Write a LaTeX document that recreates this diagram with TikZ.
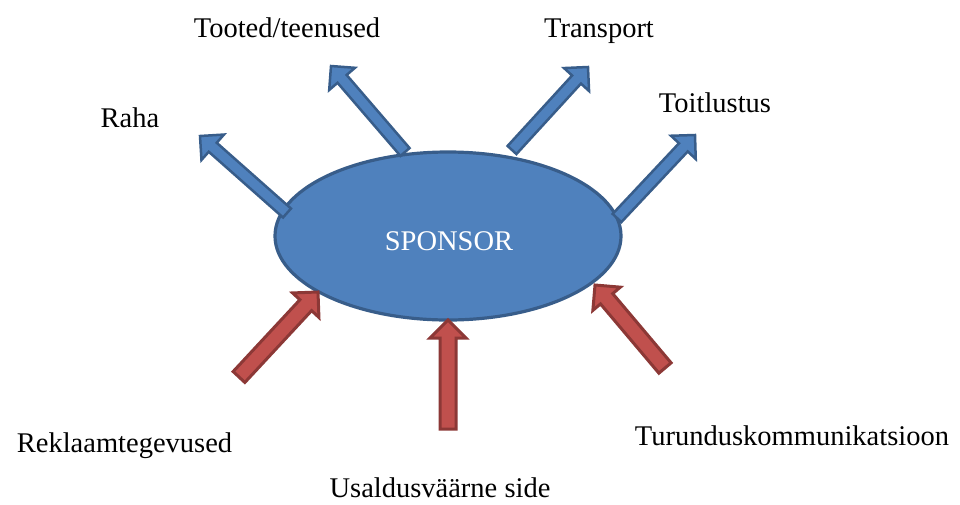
\documentclass[tikz,border=0pt]{standalone}
\usepackage{fontspec}
\setmainfont{Liberation Serif}
\usetikzlibrary{calc,shapes.geometric}
\definecolor{bfill}{HTML}{4F81BD}
\definecolor{bline}{HTML}{385D8A}
\definecolor{rfill}{HTML}{C0504D}
\definecolor{rline}{HTML}{8C3836}
\tikzset{
  bluearrow/.style={fill=bfill,draw=bline,line width=2.5pt},
  redarrow/.style={fill=rfill,draw=rline,line width=3pt},
  lbl/.style={font=\fontsize{28.5}{34}\selectfont,inner sep=0pt,anchor=base}
}
% #1 style, #2 tail, #3 tip, #4 shaft half width, #5 head half width, #6 head length
\newcommand\blockarr[6]{%
  \coordinate (hb-#2) at ($(#3)!#6!(#2)$);
  \draw[#1] ($(#2)!#4!90:(#3)$) -- ($(hb-#2)!#4!90:(#3)$)
    -- ($(hb-#2)!#5!90:(#3)$) -- (#3)
    -- ($(hb-#2)!#5!-90:(#3)$) -- ($(hb-#2)!#4!-90:(#3)$)
    -- ($(#2)!#4!-90:(#3)$) -- cycle;
}
\begin{document}
\begin{tikzpicture}[x=1pt,y=-1pt]
\useasboundingbox (0,0) rectangle (960,504);
\node[ellipse,fill=bfill,draw=bline,line width=3.2pt,minimum width=346pt,minimum height=168pt] (sponsor) at (448,236) {};
\node[lbl,text=white] (sp) at (449,250) {SPONSOR};
% blue arrows
\coordinate (t1) at (287,213); \coordinate (p1) at (200,136);
\coordinate (t2) at (405,152); \coordinate (p2) at (331,66);
\coordinate (t3) at (512,150); \coordinate (p3) at (588,67);
\coordinate (t4) at (617,218); \coordinate (p4) at (695,135);
\blockarr{bluearrow}{t1}{p1}{6pt}{17pt}{17pt}
\blockarr{bluearrow}{t2}{p2}{6pt}{17pt}{17pt}
\blockarr{bluearrow}{t3}{p3}{6pt}{17pt}{17pt}
\blockarr{bluearrow}{t4}{p4}{6pt}{17pt}{17pt}
% red arrows
\coordinate (t5) at (239,377); \coordinate (p5) at (318,292);
\coordinate (t6) at (448,429); \coordinate (p6) at (448,320);
\coordinate (t7) at (665,368); \coordinate (p7) at (595,285);
\blockarr{redarrow}{t5}{p5}{8pt}{18pt}{18pt}
\blockarr{redarrow}{t6}{p6}{8pt}{18pt}{18pt}
\blockarr{redarrow}{t7}{p7}{8pt}{18pt}{18pt}
% labels
\node[lbl] (l1) at (130,127) {Raha};
\node[lbl] (l2) at (287,37) {Tooted/teenused};
\node[lbl] (l3) at (599,37) {Transport};
\node[lbl] (l4) at (715,112) {Toitlustus};
\node[lbl] (l5) at (124.5,452) {Reklaamtegevused};
\node[lbl] (l6) at (440,497) {Usaldusväärne side};
\node[lbl] (l7) at (792,445) {Turunduskommunikatsioon};
\end{tikzpicture}
\end{document}
